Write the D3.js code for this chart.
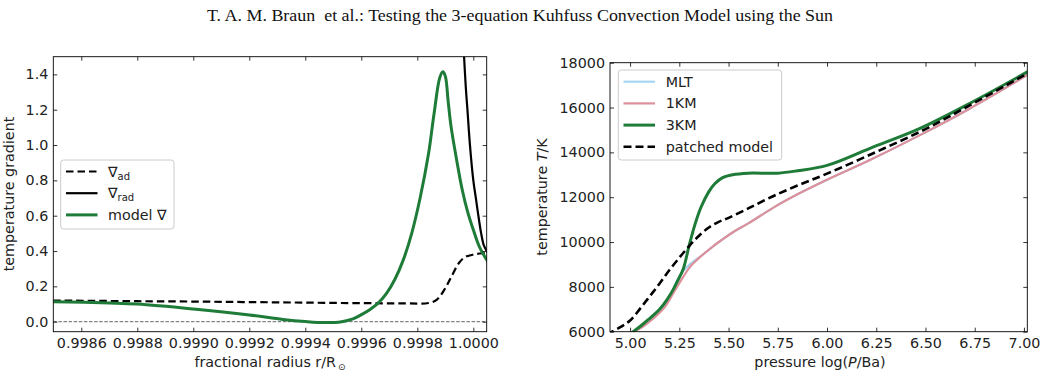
<!DOCTYPE html>
<html>
<head>
<meta charset="utf-8">
<script src="https://cdn.jsdelivr.net/npm/d3@7"></script>
<style>
  body { margin: 0; background: #fff; }
  svg { display: block; font-family: "DejaVu Sans", sans-serif; }
  .tick line { stroke: #000; stroke-width: 0.8; }
</style>
</head>
<body>
<script>
"use strict";

var width = 1040;
var height = 377;

// left panel: temperature gradients vs fractional radius
var adR   = [0.99850, 0.99880, 0.99900, 0.99920, 0.99940, 0.99960, 0.99975, 0.99984, 0.99987, 0.99990, 0.99992, 0.99995, 0.99997, 1.00000, 1.00004, 1.00006];
var adV   = [0.120, 0.116, 0.114, 0.111, 0.108, 0.105, 0.104, 0.106, 0.125, 0.190, 0.250, 0.335, 0.365, 0.380, 0.388, 0.390];
var radR  = [0.999962, 0.999967, 0.999973, 0.999979, 0.999988, 1.000000, 1.000010, 1.000018, 1.000028, 1.000038, 1.000050, 1.000060];
var radV  = [1.65, 1.50, 1.33, 1.20, 1.00, 0.80, 0.69, 0.60, 0.50, 0.43, 0.395, 0.37];
var modR  = [0.99850, 0.99870, 0.99880, 0.99900, 0.99920, 0.99932, 0.99940, 0.99947, 0.99953, 0.99957, 0.99960, 0.99963, 0.99966, 0.99969, 0.99972, 0.99975, 0.99978, 0.99981, 0.99984, 0.99986, 0.99988, 0.999891, 0.99990, 0.99991, 0.99992, 0.99994, 0.99996, 0.99998, 1.00000, 1.00002, 1.00004, 1.00006];
var modV  = [0.113, 0.106, 0.100, 0.072, 0.038, 0.013, 0.001, -0.005, 0.000, 0.016, 0.040, 0.068, 0.105, 0.160, 0.240, 0.350, 0.500, 0.700, 0.950, 1.180, 1.380, 1.415, 1.390, 1.250, 1.110, 0.920, 0.750, 0.620, 0.520, 0.430, 0.370, 0.320];
var leftXTicks = [0.9986, 0.9988, 0.9990, 0.9992, 0.9994, 0.9996, 0.9998, 1.0000];
var leftYTicks = [0.0, 0.2, 0.4, 0.6, 0.8, 1.0, 1.2, 1.4];

// right panel: temperature vs log pressure
var mltP = [5.00, 5.06, 5.12, 5.17, 5.22, 5.26, 5.30, 5.33, 5.364, 5.42, 5.465, 5.53, 5.60, 5.736, 5.85, 6.00, 6.218, 6.472, 6.726, 7.03];
var mltT = [5950, 6220, 6650, 7120, 7900, 8600, 8980, 9190, 9400, 9800, 10090, 10480, 10830, 11580, 12130, 12780, 13660, 14770, 15960, 17520];
var km1P = [5.00, 5.06, 5.12, 5.178, 5.225, 5.27, 5.31, 5.364, 5.42, 5.465, 5.53, 5.60, 5.736, 5.85, 6.00, 6.218, 6.472, 6.726, 7.03];
var km1T = [5930, 6200, 6600, 7120, 7800, 8450, 8950, 9400, 9800, 10090, 10480, 10830, 11580, 12130, 12780, 13660, 14770, 15960, 17520];
var km3P = [5.00, 5.017, 5.06, 5.11, 5.15, 5.186, 5.22, 5.24, 5.27, 5.30, 5.33, 5.36, 5.40, 5.43, 5.47, 5.52, 5.60, 5.75, 5.85, 6.00, 6.218, 6.472, 6.726, 7.03];
var km3T = [5850, 6000, 6300, 6670, 7000, 7410, 7900, 8250, 8800, 9850, 10800, 11550, 12250, 12600, 12870, 13000, 13070, 13070, 13180, 13420, 14180, 15070, 16190, 17650];
var patP = [4.88, 4.95, 5.00, 5.05, 5.10, 5.15, 5.20, 5.25, 5.30, 5.35, 5.40, 5.45, 5.50, 5.60, 5.72, 5.85, 6.00, 6.25, 6.50, 6.75, 7.03];
var patT = [5880, 6200, 6500, 7020, 7580, 8150, 8750, 9300, 9820, 10280, 10650, 10900, 11080, 11500, 12020, 12520, 13050, 14020, 15040, 16220, 17580];
var rightXTicks = [5.00, 5.25, 5.50, 5.75, 6.00, 6.25, 6.50, 6.75, 7.00];
var rightYTicks = [6000, 8000, 10000, 12000, 14000, 16000, 18000];

var green = "#1e7b38";
var tickFont = "14.3px";

var svg = d3.select("body").append("svg").attr("width", width).attr("height", height);

svg.append("text").attr("x", 520).attr("y", 21).attr("text-anchor", "middle")
  .attr("textLength", 626).attr("lengthAdjust", "spacingAndGlyphs")
  .style("font-family", "'Liberation Serif', serif").style("font-size", "16.5px")
  .style("white-space", "pre").attr("fill", "#111")
  .text("T. A. M. Braun  et al.: Testing the 3-equation Kuhfuss Convection Model using the Sun");

function makeFrame(g, x, y, xTicks, yTicks, xFmt, yFmt, id) {
  var x0 = x.range()[0], x1 = x.range()[1], y0 = y.range()[0], y1 = y.range()[1];
  g.append("clipPath").attr("id", id).append("rect")
    .attr("x", x0).attr("y", y1).attr("width", x1 - x0).attr("height", y0 - y1);
  g.append("g").attr("transform", "translate(0," + y0 + ")")
    .call(d3.axisBottom(x).tickValues(xTicks).tickFormat(xFmt).tickSizeInner(-4).tickSizeOuter(0).tickPadding(6));
  g.append("g").attr("transform", "translate(0," + y1 + ")")
    .call(d3.axisTop(x).tickValues(xTicks).tickFormat("").tickSizeInner(-4).tickSizeOuter(0));
  g.append("g").attr("transform", "translate(" + x0 + ",0)")
    .call(d3.axisLeft(y).tickValues(yTicks).tickFormat(yFmt).tickSizeInner(-4).tickSizeOuter(0).tickPadding(5));
  g.append("g").attr("transform", "translate(" + x1 + ",0)")
    .call(d3.axisRight(y).tickValues(yTicks).tickFormat("").tickSizeInner(-4).tickSizeOuter(0));
  g.selectAll(".domain").remove();
  g.selectAll(".tick text").style("font-family", "'DejaVu Sans'").style("font-size", tickFont).attr("fill", "#222");
  g.append("rect").attr("x", x0).attr("y", y1).attr("width", x1 - x0).attr("height", y0 - y1)
    .attr("fill", "none").attr("stroke", "#000").attr("stroke-width", 0.9);
}

function drawLine(g, id, xs, ys, x, y, color, w, dash) {
  var pts = xs.map(function (d, i) { return [d, ys[i]]; });
  var line = d3.line().x(function (d) { return x(d[0]); }).y(function (d) { return y(d[1]); })
    .curve(d3.curveCatmullRom.alpha(0.5));
  g.append("path").attr("d", line(pts)).attr("clip-path", "url(#" + id + ")")
    .attr("fill", "none").attr("stroke", color).attr("stroke-width", w)
    .attr("stroke-dasharray", dash || null);
}

// ---- left panel
var xL = d3.scaleLinear().domain([0.9985, 1.0000478]).range([53.3, 486.7]);
var yL = d3.scaleLinear().domain([-0.0566, 1.5]).range([331.7, 56.7]);
var gL = svg.append("g");

gL.append("line").attr("clip-path", "url(#clipL)")
  .attr("x1", xL.range()[0]).attr("x2", xL.range()[1]).attr("y1", yL(0)).attr("y2", yL(0))
  .attr("stroke", "#666").attr("stroke-width", 1).attr("stroke-dasharray", "3.5,1.6");
drawLine(gL, "clipL", adR, adV, xL, yL, "#000", 2.2, "7.5,4");
drawLine(gL, "clipL", radR, radV, xL, yL, "#000", 2.2);
drawLine(gL, "clipL", modR, modV, xL, yL, green, 3);
makeFrame(gL, xL, yL, leftXTicks, leftYTicks, d3.format(".4f"), d3.format(".1f"), "clipL");

gL.append("text").attr("transform", "translate(14,194) rotate(-90)").attr("text-anchor", "middle")
  .style("font-size", "14.3px").attr("fill", "#222").text("temperature gradient");
var xlabL = gL.append("text").attr("x", 270).attr("y", 367).attr("text-anchor", "middle")
  .style("font-size", "14.3px").attr("fill", "#222");
xlabL.append("tspan").text("fractional radius r/R");
xlabL.append("tspan").attr("dx", 2).attr("dy", 3).style("font-size", "9px").text("\u2299");

// left legend
var legL = gL.append("g");
legL.append("rect").attr("x", 60.7).attr("y", 160).attr("width", 113.3).attr("height", 69).attr("rx", 3)
  .attr("fill", "#fff").attr("fill-opacity", 0.85).attr("stroke", "#ccc").attr("stroke-width", 1);
var legLItems = [
  { name: "\u2207", sub: "ad", color: "#000", w: 2.2, dash: "7.5,4" },
  { name: "\u2207", sub: "rad", color: "#000", w: 2.2 },
  { name: "model \u2207", sub: "", color: green, w: 3 }
];
legLItems.forEach(function (d, i) {
  var yy = 171.5 + i * 21.7;
  legL.append("line").attr("x1", 66).attr("x2", 97.5).attr("y1", yy).attr("y2", yy)
    .attr("stroke", d.color).attr("stroke-width", d.w).attr("stroke-dasharray", d.dash || null);
  var t = legL.append("text").attr("x", 108).attr("y", yy + 5).style("font-size", "14.3px").attr("fill", "#222");
  t.append("tspan").text(d.name);
  if (d.sub) t.append("tspan").attr("dy", 3).style("font-size", "10px").text(d.sub);
});

// ---- right panel
var xR = d3.scaleLinear().domain([4.898, 7.017]).range([610, 1027.3]);
var yR = d3.scaleLinear().domain([6000, 18000]).range([331.7, 62.7]);
var gR = svg.append("g");

drawLine(gR, "clipR", mltP, mltT, xR, yR, "#a6d5f2", 2.2);
drawLine(gR, "clipR", km1P, km1T, xR, yR, "#dd8f9a", 2.2);
drawLine(gR, "clipR", km3P, km3T, xR, yR, green, 3);
drawLine(gR, "clipR", patP, patT, xR, yR, "#000", 2.6, "8,4");
makeFrame(gR, xR, yR, rightXTicks, rightYTicks, d3.format(".2f"), d3.format("d"), "clipR");

var ylabR = gR.append("text").attr("transform", "translate(547,197) rotate(-90)").attr("text-anchor", "middle")
  .style("font-size", "14.3px").attr("fill", "#222");
ylabR.append("tspan").text("temperature ");
ylabR.append("tspan").style("font-style", "italic").text("T");
ylabR.append("tspan").text("/K");
var xlabR = gR.append("text").attr("x", 820).attr("y", 367).attr("text-anchor", "middle")
  .style("font-size", "14.3px").attr("fill", "#222");
xlabR.append("tspan").text("pressure log(");
xlabR.append("tspan").style("font-style", "italic").text("P");
xlabR.append("tspan").text("/Ba)");

// right legend
var legR = gR.append("g");
legR.append("rect").attr("x", 618.3).attr("y", 70).attr("width", 163.4).attr("height", 90).attr("rx", 3)
  .attr("fill", "#fff").attr("fill-opacity", 0.85).attr("stroke", "#ccc").attr("stroke-width", 1);
var legRItems = [
  { name: "MLT", color: "#a6d5f2", w: 2.2 },
  { name: "1KM", color: "#dd8f9a", w: 2.2 },
  { name: "3KM", color: green, w: 3 },
  { name: "patched model", color: "#000", w: 2.6, dash: "8,4" }
];
legRItems.forEach(function (d, i) {
  var yy = 81.7 + i * 21.7;
  legR.append("line").attr("x1", 623.5).attr("x2", 655).attr("y1", yy).attr("y2", yy)
    .attr("stroke", d.color).attr("stroke-width", d.w).attr("stroke-dasharray", d.dash || null);
  legR.append("text").attr("x", 665.7).attr("y", yy + 5).style("font-size", "14.3px").attr("fill", "#222").text(d.name);
});
</script>
</body>
</html>
